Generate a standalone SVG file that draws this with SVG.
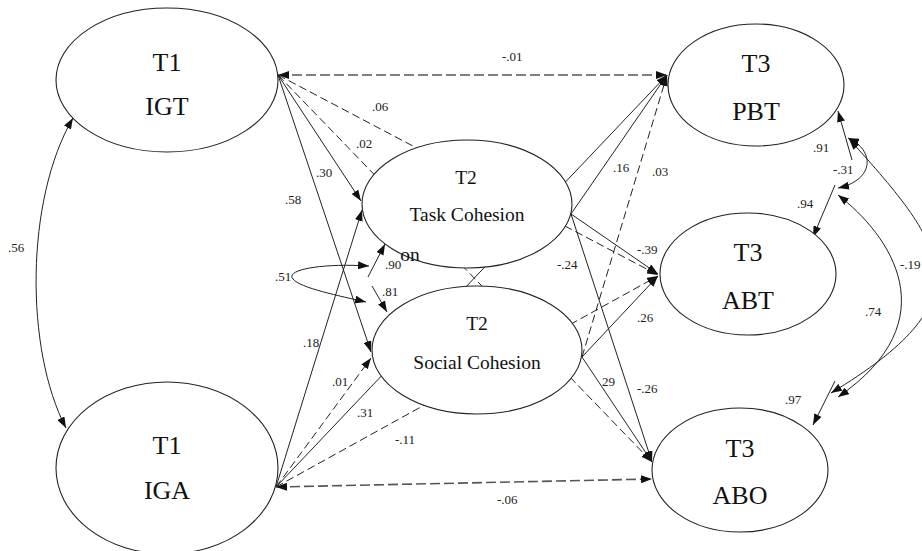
<svg xmlns="http://www.w3.org/2000/svg" width="922" height="551" viewBox="0 0 922 551">
<defs>
<marker id="ah" markerWidth="11" markerHeight="8" refX="11" refY="4" orient="auto-start-reverse" markerUnits="userSpaceOnUse">
<path d="M0,0 L11,4 L0,8 z" fill="#111"/>
</marker>
<style>
.n{fill:#fff;stroke:#222;stroke-width:1.1}
.t{font-family:"Liberation Serif","Times New Roman",serif;fill:#111;text-anchor:middle}
.big{font-size:26px}
.mid{font-size:19.5px}
.lbl{font-family:"Liberation Serif","Times New Roman",serif;font-size:13px;fill:#222}
.s{fill:none;stroke:#222;stroke-width:1}
.d{fill:none;stroke:#222;stroke-width:1;stroke-dasharray:8 4}
.g{fill:none;stroke:#555;stroke-width:1.6;stroke-dasharray:10 4}
</style>
</defs>
<rect width="922" height="551" fill="#fff"/>
<g id="connectors">
<path class="g" d="M278 75 L667 75" marker-start="url(#ah)" marker-end="url(#ah)"/>
<path class="d" d="M278 75 L658 275" marker-end="url(#ah)"/>
<path class="d" d="M278 75 L652 462" marker-end="url(#ah)"/>
<path class="s" d="M278 75 L361 201" marker-end="url(#ah)"/>
<path class="s" d="M278 75 L371 352" marker-end="url(#ah)"/>
<path class="s" d="M276 487 L362 210" marker-end="url(#ah)"/>
<path class="d" d="M276 487 L371 358" marker-end="url(#ah)"/>
<path class="s" d="M276 487 L667 75" marker-end="url(#ah)"/>
<path class="d" d="M276 487 L658 276" marker-end="url(#ah)"/>
<path class="g" d="M276 487 L652 479" marker-start="url(#ah)" marker-end="url(#ah)"/>
<path class="s" d="M571 214 L667 75" marker-end="url(#ah)"/>
<path class="s" d="M571 214 L658 274" marker-end="url(#ah)"/>
<path class="s" d="M571 214 L652 462" marker-end="url(#ah)"/>
<path class="d" d="M582 357 L667 75" marker-end="url(#ah)"/>
<path class="s" d="M582 357 L658 276" marker-end="url(#ah)"/>
<path class="s" d="M582 357 L652 462" marker-end="url(#ah)"/>
<path class="s" d="M73 118 C25 200 25 350 66 428" marker-start="url(#ah)" marker-end="url(#ah)"/>
<path class="s" d="M368 277 L385 244" marker-end="url(#ah)"/>
<path class="s" d="M372 286 L387 312" marker-end="url(#ah)"/>
<path class="s" d="M369 266 C320 263 285 270 293 279 C300 288 340 296 366 302" marker-start="url(#ah)" marker-end="url(#ah)"/>
<path class="s" d="M852 160 L838 111" marker-end="url(#ah)"/>
<path class="s" d="M835 185 L813 237" marker-end="url(#ah)"/>
<path class="s" d="M835 381 L813 425" marker-end="url(#ah)"/>
<path class="s" d="M848 138 C875 150 875 180 838 188" marker-start="url(#ah)" marker-end="url(#ah)"/>
<path class="s" d="M849 139 C950 250 985 300 831 393" marker-start="url(#ah)" marker-end="url(#ah)"/>
<path class="s" d="M838 195 C890 235 950 320 838 397" marker-start="url(#ah)" marker-end="url(#ah)"/>
</g>
<g id="IGT"><ellipse class="n" cx="167" cy="80" rx="111" ry="72"/><text class="t big" x="167" y="71">T1</text><text class="t big" x="167" y="115">IGT</text></g>
<g id="IGA"><ellipse class="n" cx="167" cy="468" rx="111" ry="86"/><text class="t big" x="167" y="454">T1</text><text class="t big" x="167" y="499">IGA</text></g>
<g id="TaskCohesion"><ellipse class="n" cx="467" cy="204" rx="105" ry="64"/><text class="t mid" x="466" y="184">T2</text><text class="t mid" x="467" y="221">Task Cohesion</text></g>
<g id="SocialCohesion"><ellipse class="n" cx="477" cy="350" rx="105" ry="64"/><text class="t mid" x="477" y="330">T2</text><text class="t mid" x="477" y="369">Social Cohesion</text></g>
<g id="PBT"><ellipse class="n" cx="756" cy="85" rx="88" ry="61"/><text class="t big" x="756" y="72">T3</text><text class="t big" x="756" y="120">PBT</text></g>
<g id="ABT"><ellipse class="n" cx="748" cy="274" rx="88" ry="61"/><text class="t big" x="748" y="261">T3</text><text class="t big" x="748" y="309">ABT</text></g>
<g id="ABO"><ellipse class="n" cx="740" cy="470" rx="88" ry="62"/><text class="t big" x="740" y="457">T3</text><text class="t big" x="740" y="504">ABO</text></g>
<text class="t mid" x="410" y="261">on</text>
<g id="labels">
<text class="lbl" x="502" y="61">-.01</text>
<text class="lbl" x="372" y="111">.06</text>
<text class="lbl" x="356" y="148">.02</text>
<text class="lbl" x="316" y="177">.30</text>
<text class="lbl" x="285" y="204">.58</text>
<text class="lbl" x="613" y="172">.16</text>
<text class="lbl" x="652" y="176">.03</text>
<text class="lbl" x="385" y="269">.90</text>
<text class="lbl" x="275" y="281">.51</text>
<text class="lbl" x="382" y="296">.81</text>
<text class="lbl" x="557" y="269">-.24</text>
<text class="lbl" x="637" y="254">-.39</text>
<text class="lbl" x="637" y="322">.26</text>
<text class="lbl" x="303" y="347">.18</text>
<text class="lbl" x="332" y="386">.01</text>
<text class="lbl" x="357" y="417">.31</text>
<text class="lbl" x="395" y="444">-.11</text>
<text class="lbl" x="602" y="386">29</text>
<text class="lbl" x="637" y="393">-.26</text>
<text class="lbl" x="497" y="504">-.06</text>
<text class="lbl" x="8" y="252">.56</text>
<text class="lbl" x="813" y="152">.91</text>
<text class="lbl" x="833" y="174">-.31</text>
<text class="lbl" x="797" y="208">.94</text>
<text class="lbl" x="900" y="269">-.19</text>
<text class="lbl" x="865" y="316">.74</text>
<text class="lbl" x="785" y="404">.97</text>
</g>
</svg>
